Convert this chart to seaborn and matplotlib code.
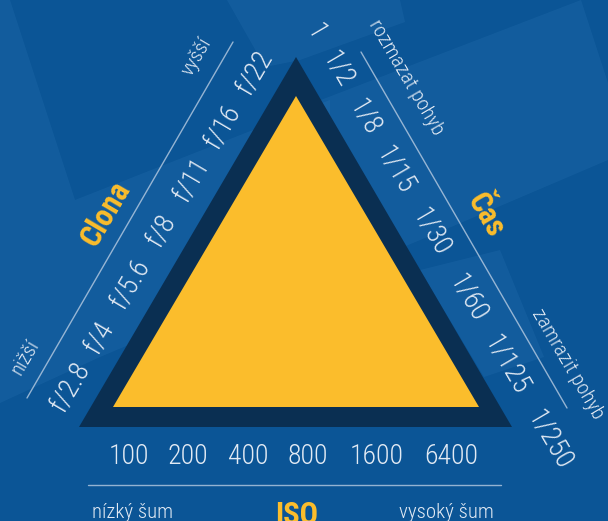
import numpy as np
import pandas as pd
import seaborn as sns
import matplotlib.pyplot as plt

# values shown on the three sides of the exposure triangle
clona = ["f/2.8", "f/4", "f/5.6", "f/8", "f/11", "f/16", "f/22"]
cas = ["1", "1/2", "1/8", "1/15", "1/30", "1/60", "1/125", "1/250"]
iso = ["100", "200", "400", "800", "1600", "6400"]

sns.set_theme(style="white")
plt.rcParams["font.family"] = ["Roboto Condensed", "DejaVu Sans"]

BG = "#0b5596"
LIGHT = "#2f79b8"
NAVY = "#0a2f52"
YEL = "#fbbd2c"
TXT = "#e2eaf4"

fig = plt.figure(figsize=(6.08, 5.21), dpi=100)
ax = fig.add_axes([0, 0, 1, 1])
fig.patch.set_facecolor(BG)

# lighter background panels
for poly in [
    [(0, 0), (10, 0), (75, 200), (253, 130), (330, 100), (330, 260), (100, 357), (0, 403)],
    [(300, 108), (581, 0), (608, 83), (608, 160), (437, 233), (300, 290)],
    [(227, 0), (400, 0), (405, 22), (300, 60), (265, 67)],
    [(420, 270), (500, 250), (544, 357), (484, 377)],
]:
    xs, ys = zip(*poly)
    ax.fill(xs, ys, color=LIGHT, alpha=0.22, lw=0)

# triangle
ax.fill([79, 296, 512], [427, 57, 427], color=NAVY, lw=0)
ax.fill([113, 296, 479], [407, 96, 407], color=YEL, lw=0)

# guide lines
guides = pd.DataFrame({
    "x": [233, 27, 361, 567, 88, 501],
    "y": [42, 398, 52, 408, 485, 485],
    "g": ["a", "a", "b", "b", "c", "c"],
})
sns.lineplot(data=guides, x="x", y="y", units="g", estimator=None, sort=False,
             color="#b8cce2", lw=1, alpha=0.8, ax=ax, legend=False)
ax.set_xlim(0, 608)
ax.set_ylim(521, 0)
ax.axis("off")

fs = 20
lw_ = "light"
# left side
u = np.array([0.506, -0.862])
left_off = [0, 57, 119, 181, 240, 302, 365]
for lab, d in zip(clona, left_off):
    p = np.array([70, 387]) + d * u
    ax.text(p[0], p[1], lab, rotation=59.6, rotation_mode="anchor",
            ha="center", va="center", color=TXT, fontsize=fs, fontweight=lw_)
# right side
v = np.array([0.497, 0.868])
right_off = [0, 43, 98, 159, 231, 307, 384, 470]
for lab, d in zip(cas, right_off):
    p = np.array([316, 32]) + d * v
    ax.text(p[0], p[1], lab, rotation=-59.7, rotation_mode="anchor",
            ha="center", va="center", color=TXT, fontsize=fs, fontweight=lw_)
# bottom
iso_x = [129, 188, 248, 308, 377, 451]
for lab, x in zip(iso, iso_x):
    ax.text(x, 457, lab, ha="center", va="center", color=TXT, fontsize=fs,
            fontweight=lw_)

# titles
ax.text(106, 213, "Clona", rotation=59.6, rotation_mode="anchor", ha="center",
        va="center", color=YEL, fontsize=22, fontweight="bold")
ax.text(486, 215, "Čas", rotation=-59.7, rotation_mode="anchor", ha="center",
        va="center", color=YEL, fontsize=22, fontweight="bold")
ax.text(297, 500, "ISO", ha="center", va="top", color=YEL, fontsize=22,
        fontweight="bold")

sm = 15
ax.text(197, 57, "vyšší", rotation=59.6, rotation_mode="anchor", ha="center",
        va="center", color=TXT, fontsize=sm, fontweight=lw_)
ax.text(25, 357, "nižší", rotation=59.6, rotation_mode="anchor", ha="center",
        va="center", color=TXT, fontsize=sm, fontweight=lw_)
ax.text(406, 77, "rozmazat pohyb", rotation=-59.7, rotation_mode="anchor",
        ha="center", va="center", color=TXT, fontsize=sm, fontweight=lw_)
ax.text(568, 364, "zamrazit pohyb", rotation=-59.7, rotation_mode="anchor",
        ha="center", va="center", color=TXT, fontsize=sm, fontweight=lw_)
ax.text(133, 512, "nízký šum", ha="center", va="center", color=TXT, fontsize=sm,
        fontweight=lw_)
ax.text(446, 512, "vysoký šum", ha="center", va="center", color=TXT, fontsize=sm,
        fontweight=lw_)

fig.savefig("out.png", dpi=100, facecolor=BG)
